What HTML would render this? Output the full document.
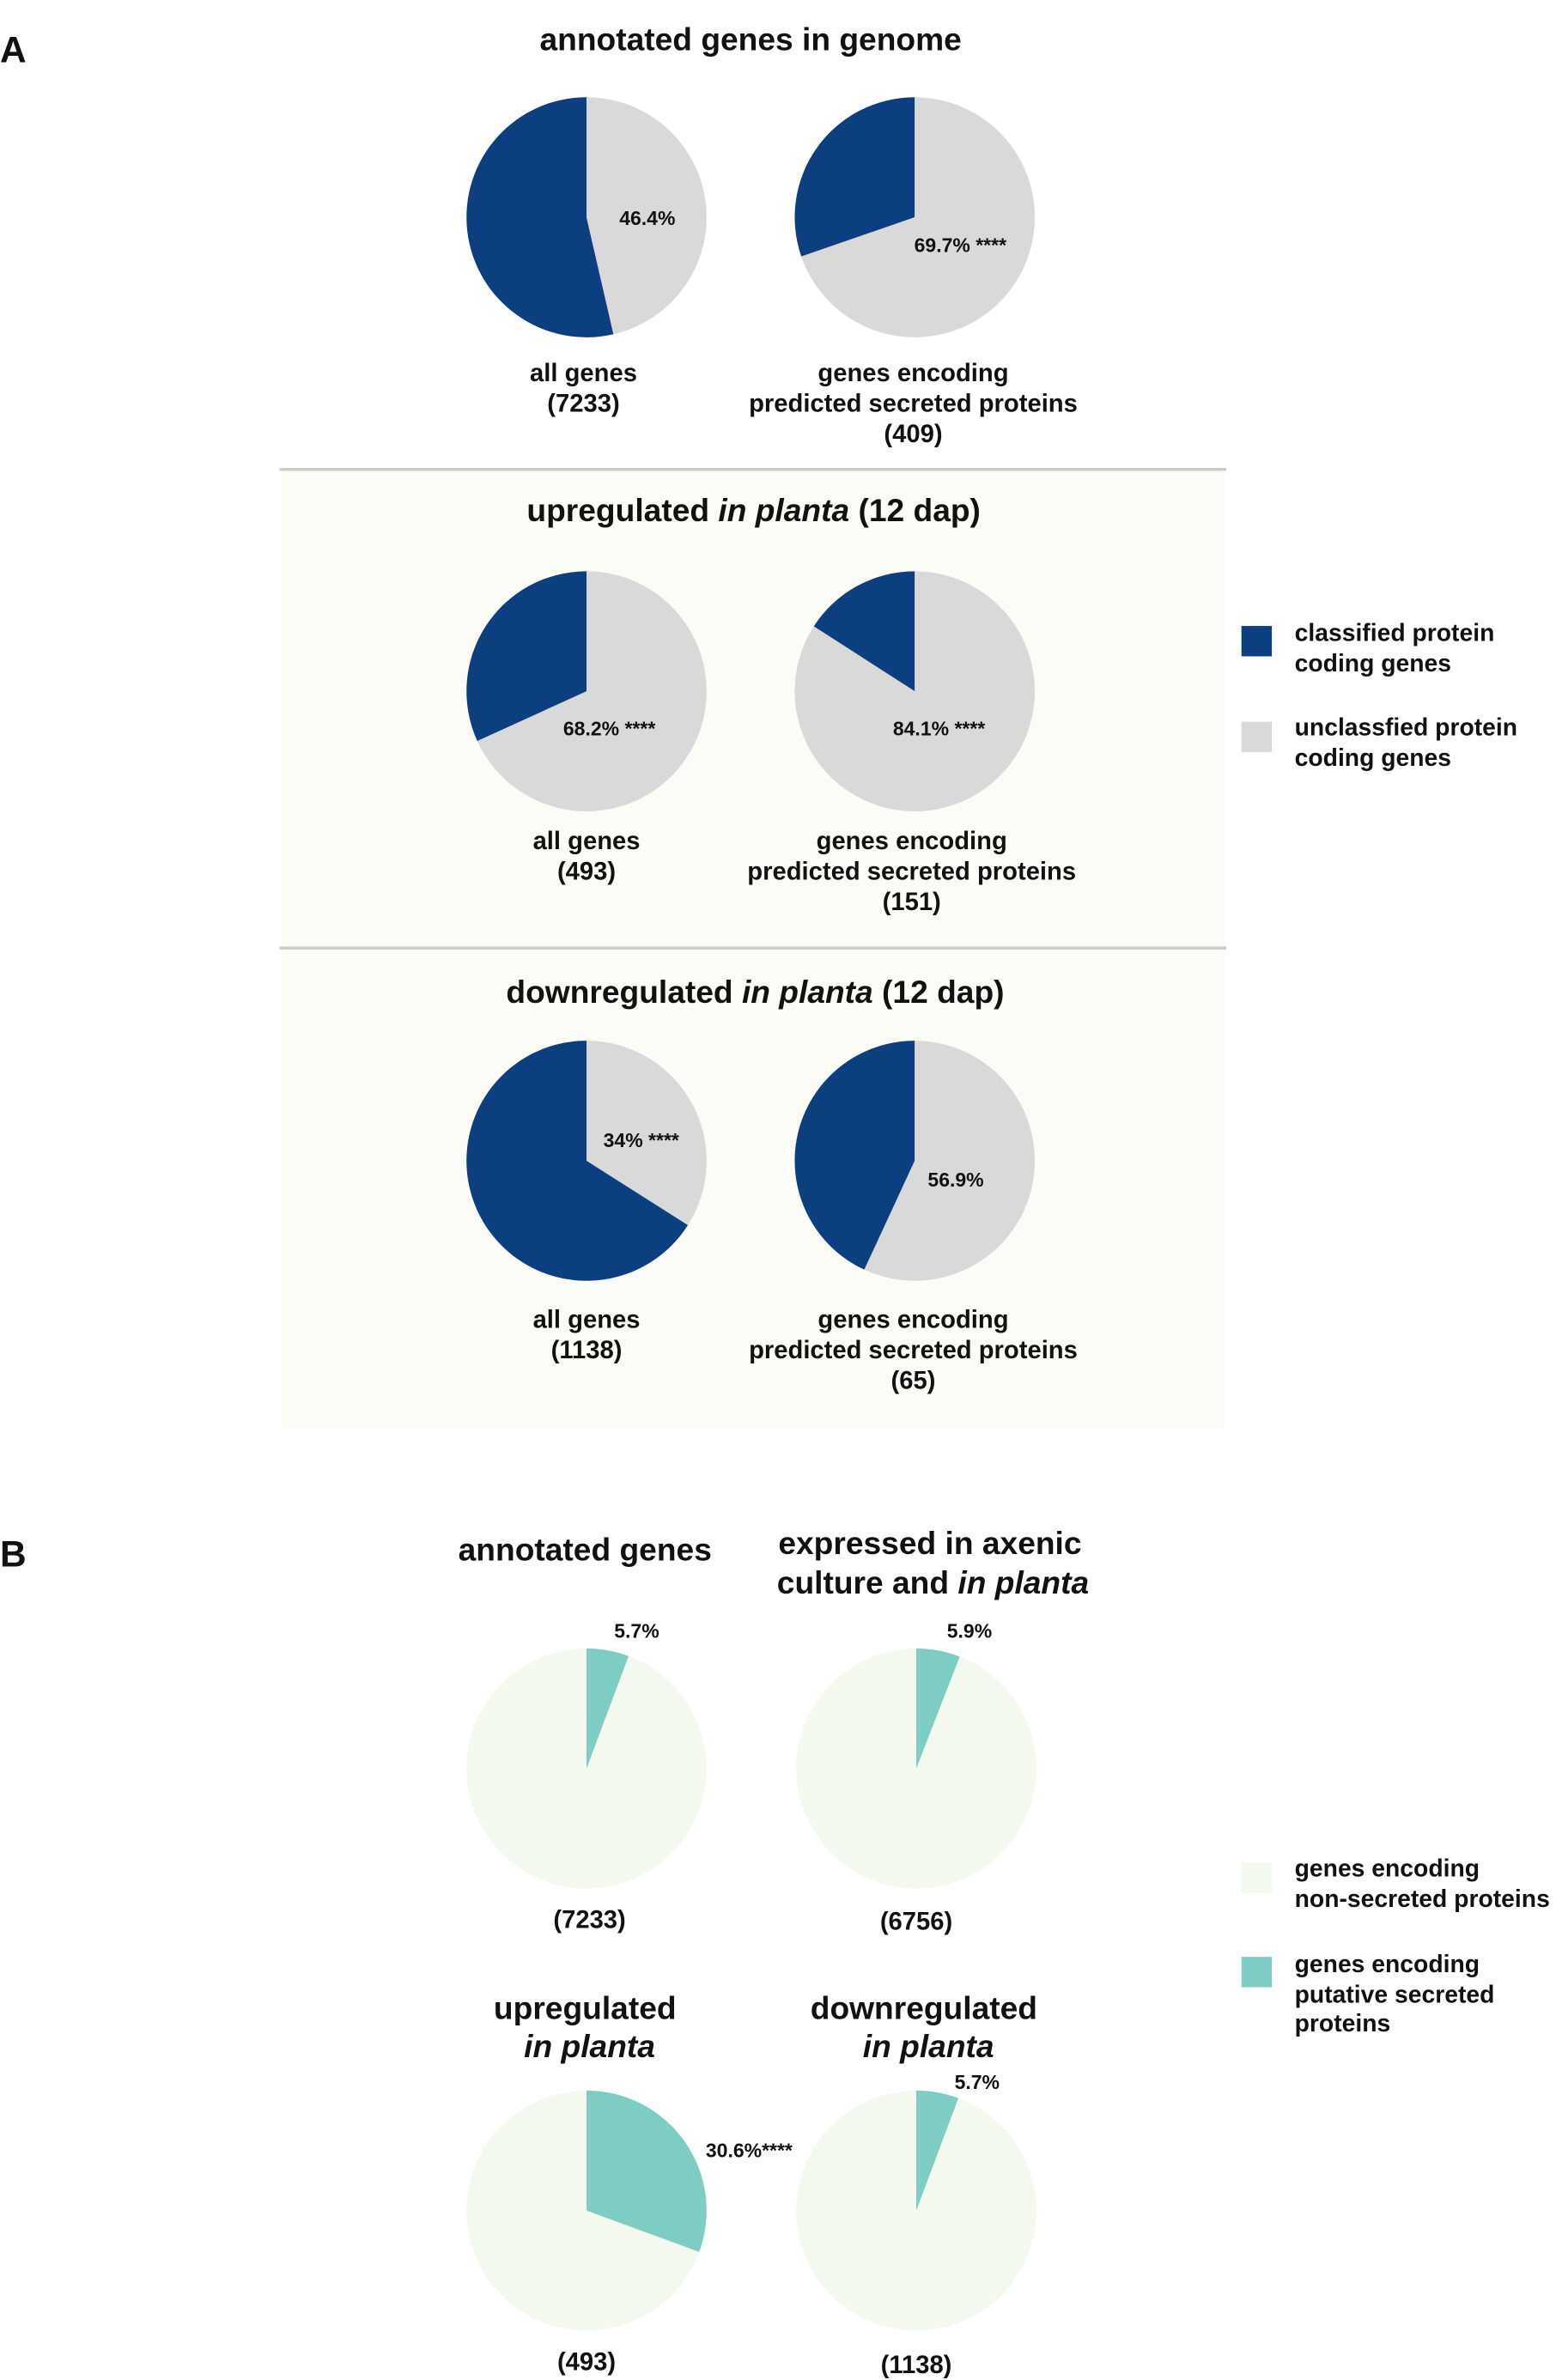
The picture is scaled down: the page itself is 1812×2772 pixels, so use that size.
<!DOCTYPE html>
<html><head><meta charset="utf-8"><style>
html,body{margin:0;padding:0;background:#fff}
svg{display:block;font-family:"Liberation Sans",Arial,sans-serif;font-weight:bold}
</style></head><body>
<svg id="fig" width="1812" height="2772" viewBox="0 0 1024 1566.5" preserveAspectRatio="none" xmlns="http://www.w3.org/2000/svg">
<g id="static" fill="#111">
  <rect x="186" y="310" width="620" height="313" fill="#fbfcf5"/>
  <rect x="186" y="625" width="620" height="315" fill="#fbfcf5"/>
  <line x1="184" y1="309" x2="807" y2="309" stroke="#cccccc" stroke-width="2"/>
  <line x1="184" y1="624" x2="807" y2="624" stroke="#cccccc" stroke-width="2"/>
  <text x="0" y="41" font-size="24">A</text>
  <text x="0" y="1031" font-size="24">B</text>
  <g font-size="21" text-anchor="middle">
    <text x="494" y="33">annotated genes in genome</text>
    <text x="496" y="343">upregulated <tspan font-style="italic">in planta</tspan> (12 dap)</text>
    <text x="497" y="660">downregulated <tspan font-style="italic">in planta</tspan> (12 dap)</text>
    <text x="385" y="1027">annotated genes</text>
    <text x="612" y="1023">expressed in axenic</text>
    <text x="614" y="1049">culture and <tspan font-style="italic">in planta</tspan></text>
    <text x="385" y="1329">upregulated</text>
    <text x="388" y="1354" font-style="italic">in planta</text>
    <text x="608" y="1329">downregulated</text>
    <text x="611" y="1354" font-style="italic">in planta</text>
  </g>
  <g font-size="16">
    <rect x="817" y="412" width="20" height="20" fill="#0b3f7f"/>
    <text x="852" y="422">classified protein</text>
    <text x="852" y="442">coding genes</text>
    <rect x="817" y="475" width="20" height="20" fill="#d9d9d9"/>
    <text x="852" y="484">unclassfied protein</text>
    <text x="852" y="504">coding genes</text>
    <rect x="817" y="1226" width="20" height="20" fill="#f3f9ee"/>
    <text x="852" y="1235">genes encoding</text>
    <text x="852" y="1255">non-secreted proteins</text>
    <rect x="817" y="1288" width="20" height="20" fill="#7ecdc4"/>
    <text x="852" y="1298">genes encoding</text>
    <text x="852" y="1318">putative secreted</text>
    <text x="852" y="1337">proteins</text>
  </g>
</g>
<g id="pies"></g>
</svg>
<script>
const pieNames = ['a-genome-all','a-genome-secreted','a-up-all','a-up-secreted','a-down-all','a-down-secreted','b-annotated','b-expressed','b-up','b-down'];
const piePercents = [46.4, 69.7, 68.2, 84.1, 34, 56.9, 5.7, 5.9, 30.6, 5.7];
const pieLabels = ['46.4%','69.7% ****','68.2% ****','84.1% ****','34% ****','56.9%','5.7%','5.9%','30.6%****','5.7%'];
const pieCaptions = [['all genes','(7233)'],['genes encoding','predicted secreted proteins','(409)'],['all genes','(493)'],['genes encoding','predicted secreted proteins','(151)'],['all genes','(1138)'],['genes encoding','predicted secreted proteins','(65)'],['(7233)'],['(6756)'],['(493)'],['(1138)']];
// layout (not data)
const cx=[386,602,386,602,386,602,386,603,386,603];
const cy=[143,143,455,455,764,764,1164,1164,1455,1455];
const capY=[251,251,559,559,874,874,1269,1270,1560,1562];
const capX=[384,601,386,600,386,601,388,603,386,603];
const lblXY=[[426,148],[632,166],[401,484],[618,484],[422,755],[629,781],[419,1078],[638,1078],[493,1420],[643,1375]];
const R=79, NS='http://www.w3.org/2000/svg';
const g=document.getElementById('pies');
function pt(x,y,a){return [x+R*Math.sin(a),y-R*Math.cos(a)];}
function arc(x,y,a0,a1){
  const p0=pt(x,y,a0),p1=pt(x,y,a1),large=(a1-a0)>Math.PI?1:0;
  return `M${x},${y}L${p0[0]},${p0[1]}A${R},${R} 0 ${large} 1 ${p1[0]},${p1[1]}Z`;
}
pieNames.forEach((n,i)=>{
  const isB=i>=6;
  const colSlice=isB?'#7ecdc4':'#d9d9d9', colRest=isB?'#f3f9ee':'#0b3f7f';
  const a=piePercents[i]/100*2*Math.PI;
  const rest=document.createElementNS(NS,'path');
  rest.setAttribute('d',arc(cx[i],cy[i],a,2*Math.PI-1e-6));
  rest.setAttribute('fill',colRest);
  
  
  g.appendChild(rest);
  const sl=document.createElementNS(NS,'path');
  sl.setAttribute('d',arc(cx[i],cy[i],0,a));
  sl.setAttribute('fill',colSlice);
  
  
  g.appendChild(sl);
  const t=document.createElementNS(NS,'text');
  t.setAttribute('x',lblXY[i][0]);t.setAttribute('y',lblXY[i][1]);
  t.setAttribute('font-size','13');t.setAttribute('text-anchor','middle');t.setAttribute('fill','#111');
  t.textContent=pieLabels[i];
  
  
  g.appendChild(t);
  pieCaptions[i].forEach((c,j)=>{
    const ct=document.createElementNS(NS,'text');
    ct.setAttribute('x',capX[i]);ct.setAttribute('y',capY[i]+j*20);
    ct.setAttribute('font-size','16.5');ct.setAttribute('text-anchor','middle');ct.setAttribute('fill','#111');
    ct.textContent=c;
    
    
    g.appendChild(ct);
  });
});
</script>
</body></html>
